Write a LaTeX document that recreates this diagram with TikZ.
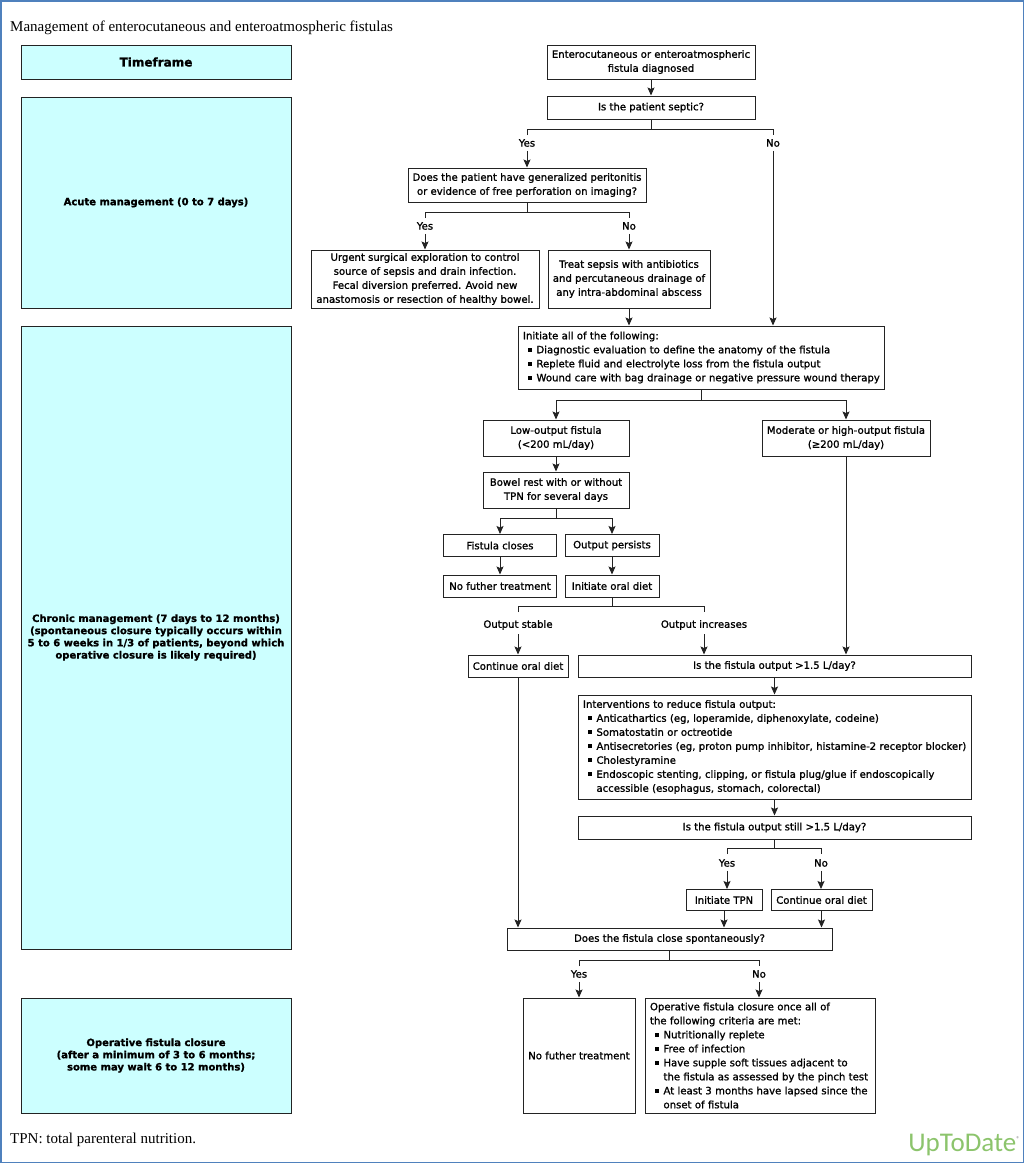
\documentclass[tikz,border=0pt]{standalone}
\usepackage{fontspec}
\usetikzlibrary{arrows.meta}
\newfontfamily\vf[FakeBold=1.2]{DejaVu Sans}
\newfontfamily\tmf{Liberation Serif}
\newfontfamily\logof{Carlito}
\definecolor{tfc}{RGB}{204,255,255}
\definecolor{bdr}{RGB}{35,35,35}
\definecolor{framec}{RGB}{79,129,189}
\definecolor{utd}{RGB}{140,196,108}
\newcommand{\bl}[1]{\mbox{\hspace*{5pt}\rule[1.7pt]{4pt}{4pt}\hspace{4.5pt}#1}}
\newcommand{\blc}[1]{\mbox{\hspace*{13.5pt}#1}}
\begin{document}
\begin{tikzpicture}[x=1pt,y=-1pt,
  wh/.style 2 args={minimum width=#1pt,minimum height=#2pt},
  box/.style={draw=bdr, line width=1pt, fill=white, align=center, inner xsep=3pt, inner ysep=1pt,
    font=\vf\fontsize{10.1}{14}\selectfont},
  lbox/.style={box, align=left, inner xsep=5pt, text width=#1pt},
  tf/.style={draw=bdr, line width=1pt, fill=tfc, align=center, inner sep=2pt,
    font=\vf\bfseries\fontsize{10}{12.2}\selectfont, minimum width=270pt},
  lab/.style={font=\vf\fontsize{10.1}{14}\selectfont, inner xsep=1pt, inner ysep=4pt},
  ln/.style={draw=bdr, line width=1pt},
  arr/.style={ln, -{Stealth[length=8pt,width=7pt,inset=1.5pt]}}
]
\useasboundingbox (0,0) rectangle (1024,1163);
\fill[white] (0,0) rectangle (1024,1163);
\draw[framec, line width=1.5pt] (0.75,0.75) rectangle (1023.25,1162.25);

% title and footnote
\node[anchor=base west, inner sep=0pt, font=\tmf\fontsize{15}{17}\selectfont] (title) at (10,31) {Management of enterocutaneous and enteroatmospheric fistulas};
\node[anchor=base west, inner sep=0pt, font=\tmf\fontsize{15}{17}\selectfont] (foot) at (10,1143) {TPN: total parenteral nutrition.};
\node[anchor=base east, inner sep=0pt, text=utd, font=\logof\fontsize{27}{29}\selectfont] (logo) at (1020,1151) {UpToDate\raisebox{10pt}{\fontsize{7}{7}\selectfont\textcolor{gray}{®}}};

% timeframe column
\node[tf, minimum height=34pt, font=\vf\bfseries\fontsize{12}{14}\selectfont] (t0) at (156,62) {Timeframe};
\node[tf, minimum height=211pt] (t1) at (156,202.5) {Acute management (0 to 7 days)};
\node[tf, minimum height=623pt] (t2) at (156,637.5) {Chronic management (7 days to 12 months)\\(spontaneous closure typically occurs within\\5 to 6 weeks in 1/3 of patients, beyond which\\operative closure is likely required)};
\node[tf, minimum height=115pt] (t3) at (156,1055.5) {Operative fistula closure\\(after a minimum of 3 to 6 months;\\some may wait 6 to 12 months)};

% flowchart nodes
\node[box, wh={208}{34}] (n1) at (651,62) {Enterocutaneous or enteroatmospheric\\fistula diagnosed};
\node[box, wh={208}{23}] (n2) at (651,107.5) {Is the patient septic?};
\node[box, wh={238}{34}] (n3) at (527,185) {Does the patient have generalized peritonitis\\or evidence of free perforation on imaging?};
\node[box, wh={228}{58}] (n4) at (425,279) {Urgent surgical exploration to control\\source of sepsis and drain infection.\\Fecal diversion preferred. Avoid new\\anastomosis or resection of healthy bowel.};
\node[box, wh={162}{58}] (n5) at (629,279) {Treat sepsis with antibiotics\\and percutaneous drainage of\\any intra-abdominal abscess};
\node[lbox=356, minimum height=63pt] (n6) at (701,357.5) {\mbox{Initiate all of the following:}\\
\bl{Diagnostic evaluation to define the anatomy of the fistula}\\
\bl{Replete fluid and electrolyte loss from the fistula output}\\
\bl{Wound care with bag drainage or negative pressure wound therapy}};
\node[box, wh={146}{36}] (n7) at (556,438) {Low-output fistula\\(<200 mL/day)};
\node[box, wh={168}{36}] (n8) at (846,438) {Moderate or high-output fistula\\(≥200 mL/day)};
\node[box, wh={146}{36}] (n9) at (556,490) {Bowel rest with or without\\TPN for several days};
\node[box, wh={113}{22}] (n10) at (500,545.5) {Fistula closes};
\node[box, wh={94}{22}] (n11) at (612,545.5) {Output persists};
\node[box, wh={113}{22}] (n12) at (500,586) {No futher treatment};
\node[box, wh={94}{22}] (n13) at (612,586) {Initiate oral diet};
\node[box, wh={100}{22}] (n14) at (518,666) {Continue oral diet};
\node[box, wh={393}{22}] (n15) at (774.5,666) {Is the fistula output >1.5 L/day?};
\node[lbox=383, minimum height=104pt] (n16) at (774.5,747) {\mbox{Interventions to reduce fistula output:}\\
\bl{Anticathartics (eg, loperamide, diphenoxylate, codeine)}\\
\bl{Somatostatin or octreotide}\\
\bl{Antisecretories (eg, proton pump inhibitor, histamine-2 receptor blocker)}\\
\bl{Cholestyramine}\\
\bl{Endoscopic stenting, clipping, or fistula plug/glue if endoscopically}\\
\blc{accessible (esophagus, stomach, colorectal)}};
\node[box, wh={393}{23}] (n17) at (774.5,827.5) {Is the fistula output still >1.5 L/day?};
\node[box, wh={76}{21}] (n18) at (724,900) {Initiate TPN};
\node[box, wh={101}{21}] (n19) at (821.5,900) {Continue oral diet};
\node[box, wh={325}{22}] (n20) at (669.5,939) {Does the fistula close spontaneously?};
\node[box, wh={112}{115}] (n21) at (579,1055.5) {No futher treatment};
\node[lbox=220, minimum height=115pt] (n22) at (760,1055.5) {\mbox{Operative fistula closure once all of}\\\mbox{the following criteria are met:}\\
\bl{Nutritionally replete}\\
\bl{Free of infection}\\
\bl{Have supple soft tissues adjacent to}\\
\blc{the fistula as assessed by the pinch test}\\
\bl{At least 3 months have lapsed since the}\\
\blc{onset of fistula}};

% labels
\node[lab] (y1) at (527,143) {Yes};
\node[lab] (no1) at (773,143) {No};
\node[lab] (y2) at (425,226) {Yes};
\node[lab] (no2) at (629,226) {No};
\node[lab] (os) at (518,625) {Output stable};
\node[lab] (oi) at (704,625) {Output increases};
\node[lab] (y3) at (727,863) {Yes};
\node[lab] (no3) at (821,863) {No};
\node[lab] (y4) at (579,974) {Yes};
\node[lab] (no4) at (759,974) {No};

% junction points
\coordinate (b1) at (651,129);
\coordinate (b2) at (527,212);
\coordinate (b3) at (701,400);
\coordinate (b4) at (556,518);
\coordinate (b5) at (612,606);
\coordinate (b6) at (774.5,848);
\coordinate (b7) at (669.5,960);

% connectors
\draw[arr] (n1) -- (n2);
\draw[ln] (n2.south) -- (b1);
\draw[ln] (y1 |- b1) ++(0,6) -- (y1 |- b1) -- (no1 |- b1) -- ++(0,6);
\draw[arr] (y1.south) -- (n3.north);
\draw[arr] (no1.south) -- (no1 |- n6.north);

\draw[ln] (n3.south) -- (b2);
\draw[ln] (y2 |- b2) ++(0,6) -- (y2 |- b2) -- (no2 |- b2) -- ++(0,6);
\draw[arr] (y2.south) -- (n4.north);
\draw[arr] (no2.south) -- (n5.north);
\draw[arr] (n5.south) -- (n5.south |- n6.north);

\draw[ln] (n6.south) -- (b3);
\draw[ln] (n7 |- b3) -- (n8 |- b3);
\draw[arr] (n7 |- b3) -- (n7.north);
\draw[arr] (n8 |- b3) -- (n8.north);

\draw[arr] (n7) -- (n9);
\draw[ln] (n9.south) -- (b4);
\draw[ln] (n10 |- b4) -- (n11 |- b4);
\draw[arr] (n10 |- b4) -- (n10.north);
\draw[arr] (n11 |- b4) -- (n11.north);
\draw[arr] (n10) -- (n12);
\draw[arr] (n11) -- (n13);

\draw[ln] (n13.south) -- (b5);
\draw[ln] (os |- b5) ++(0,6) -- (os |- b5) -- (oi |- b5) -- ++(0,6);
\draw[arr] (os.south) -- (n14.north);
\draw[arr] (oi.south) -- (oi |- n15.north);
\draw[arr] (n8.south) -- (n8.south |- n15.north);

\draw[arr] (n15) -- (n16);
\draw[arr] (n16) -- (n17);
\draw[ln] (n17.south) -- (b6);
\draw[ln] (y3 |- b6) ++(0,6) -- (y3 |- b6) -- (no3 |- b6) -- ++(0,6);
\draw[arr] (y3.south) -- (y3.south |- n18.north);
\draw[arr] (no3.south) -- (no3.south |- n19.north);

\draw[arr] (n14.south) -- (n14.south |- n20.north);
\draw[arr] (n18.south) -- (n18.south |- n20.north);
\draw[arr] (n19.south) -- (n19.south |- n20.north);

\draw[ln] (n20.south) -- (b7);
\draw[ln] (y4 |- b7) ++(0,6) -- (y4 |- b7) -- (no4 |- b7) -- ++(0,6);
\draw[arr] (y4.south) -- (n21.north);
\draw[arr] (no4.south) -- (no4.south |- n22.north);
\end{tikzpicture}
\end{document}
